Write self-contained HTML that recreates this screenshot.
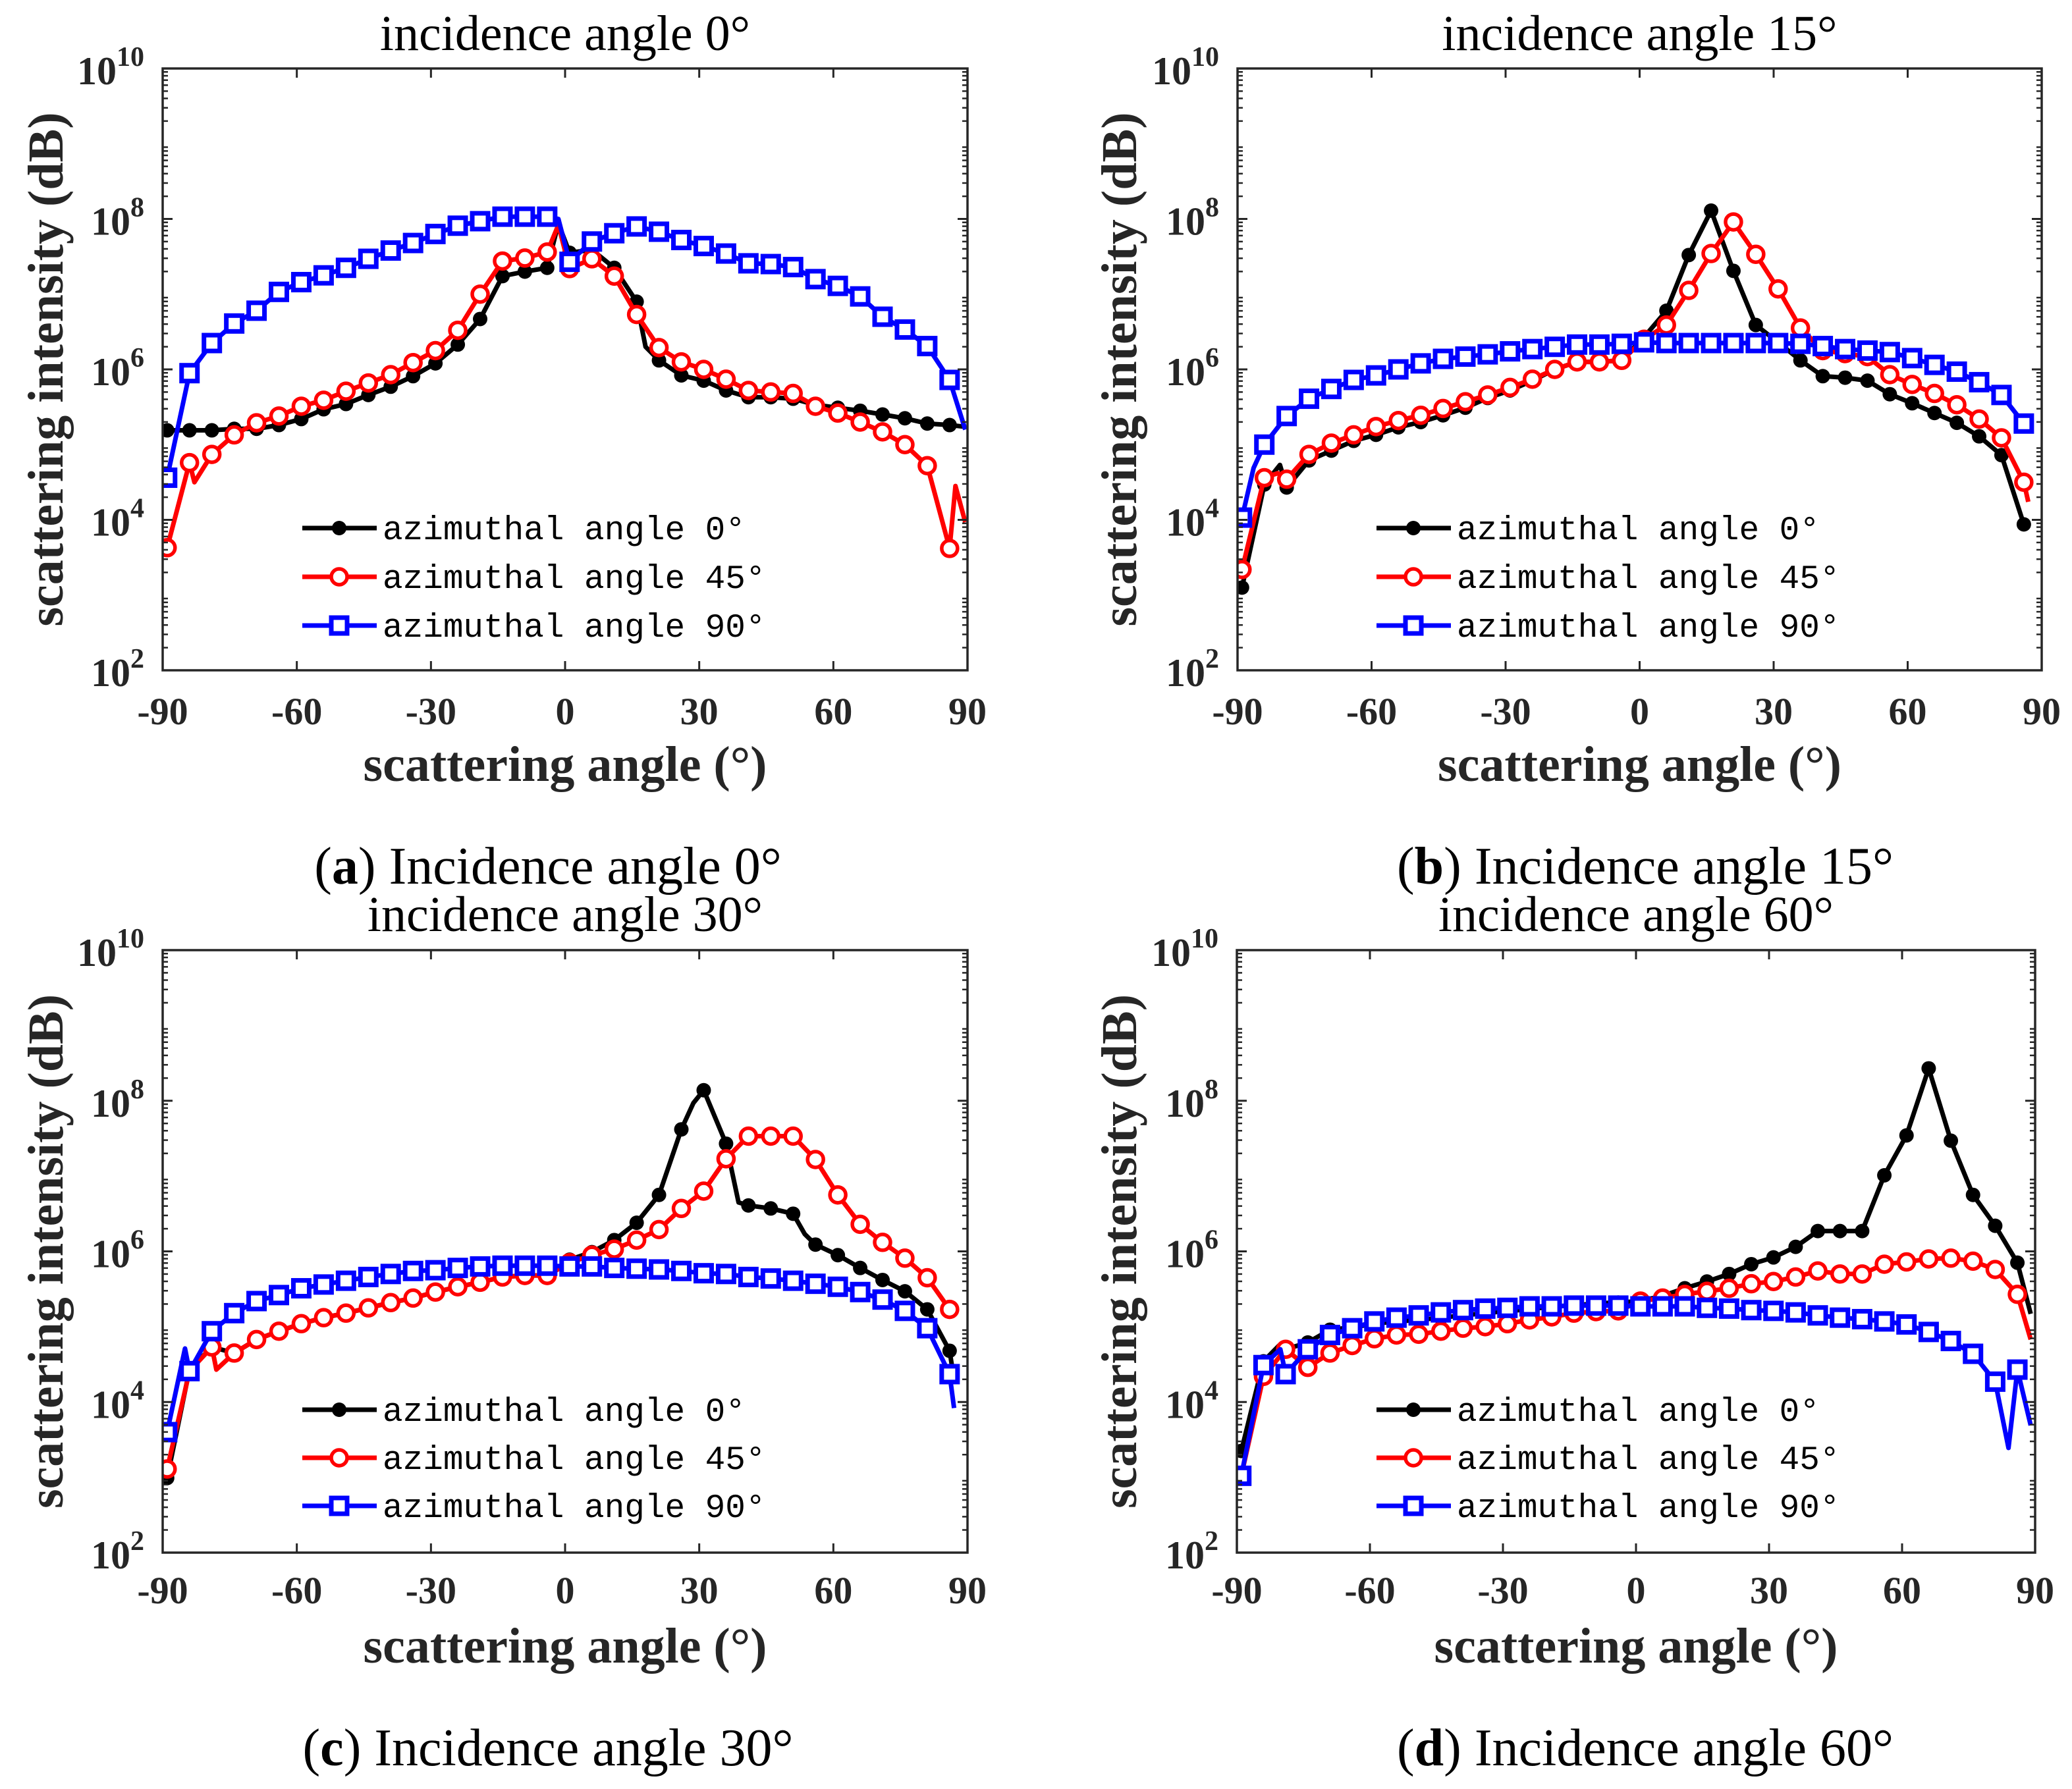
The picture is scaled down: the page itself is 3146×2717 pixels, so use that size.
<!DOCTYPE html>
<html><head><meta charset="utf-8"><style>
html,body{margin:0;padding:0;background:#fff}
svg{display:block}
</style></head><body>
<svg id="fig" xmlns="http://www.w3.org/2000/svg" width="3146" height="2717" viewBox="0 0 3146 2717">
<rect width="3146" height="2717" fill="#fff"/>
</svg>
<script>
const markerAngles=[-89,-84,-79,-74,-69,-64,-59,-54,-49,-44,-39,-34,-29,-24,-19,-14,-9,-4,1,6,11,16,21,26,31,36,41,46,51,56,61,66,71,76,81,86];
const xTicks=[-90,-60,-30,0,30,60,90];
const yTicks=[2,4,6,8,10];
const seriesNames=["azimuthal angle 0°","azimuthal angle 45°","azimuthal angle 90°"];
// panel a (incidence 0)
const aBlack=[5.19,5.19,5.19,5.21,5.21,5.26,5.34,5.47,5.54,5.66,5.77,5.91,6.08,6.33,6.67,7.24,7.30,7.35,7.55,7.59,7.35,6.90,6.12,5.92,5.85,5.72,5.63,5.63,5.61,5.53,5.49,5.45,5.40,5.35,5.28,5.26];
const aBlackExAng=[-1.5,18,89];const aBlackExVal=[7.94,6.30,5.24];
const aRed=[3.63,4.76,4.87,5.13,5.29,5.38,5.51,5.59,5.71,5.82,5.93,6.09,6.25,6.52,7.0,7.44,7.48,7.56,7.34,7.47,7.24,6.73,6.29,6.10,6.0,5.87,5.72,5.70,5.68,5.51,5.42,5.30,5.17,5.0,4.72,3.62];
const aRedExAng=[-82.9,-1.5,87.3,89.5];const aRedExVal=[4.5,7.92,4.45,3.97];
const aBlue=[4.56,5.95,6.35,6.61,6.78,7.03,7.16,7.25,7.35,7.47,7.58,7.68,7.80,7.91,7.97,8.03,8.03,8.03,7.43,7.70,7.81,7.90,7.83,7.72,7.64,7.54,7.41,7.40,7.36,7.20,7.11,6.97,6.70,6.53,6.31,5.86];
const aBlueExAng=[-1.5,89.5];const aBlueExVal=[8.0,5.2];
// panel b (incidence 15)
const bBlack=[3.10,4.47,4.43,4.79,4.92,5.05,5.13,5.23,5.30,5.39,5.49,5.62,5.72,5.85,6.0,6.10,6.10,6.12,6.43,6.78,7.52,8.11,7.31,6.59,6.36,6.12,5.91,5.89,5.85,5.67,5.55,5.42,5.29,5.11,4.86,3.94];
const bBlackExAng=[-80.5];const bBlackExVal=[4.73];
const bRed=[3.34,4.56,4.54,4.87,5.02,5.13,5.24,5.32,5.39,5.48,5.57,5.66,5.76,5.87,6.0,6.10,6.10,6.12,6.40,6.59,7.05,7.54,7.96,7.53,7.07,6.55,6.25,6.21,6.17,5.93,5.80,5.68,5.53,5.34,5.09,4.50];
const bRedExAng=[-81,87];const bRedExVal=[4.62,4.24];
const bBlue=[4.03,5.0,5.38,5.61,5.74,5.86,5.92,6.0,6.08,6.14,6.17,6.20,6.24,6.27,6.30,6.33,6.33,6.34,6.36,6.35,6.35,6.35,6.35,6.35,6.35,6.34,6.31,6.27,6.25,6.23,6.15,6.06,5.97,5.83,5.66,5.28];
const bBlueExAng=[-86.4,87];const bBlueExVal=[4.69,5.22];
// panel c (incidence 30)
const cBlack=[2.99,4.43,4.73,4.65,4.83,4.94,5.04,5.12,5.18,5.25,5.32,5.38,5.46,5.53,5.59,5.66,5.68,5.68,5.89,5.99,6.15,6.38,6.75,7.62,8.14,7.43,6.61,6.57,6.50,6.09,5.95,5.78,5.62,5.47,5.23,4.68];
const cBlackExAng=[28.7,38.8,53.6,87];const cBlackExVal=[7.97,6.65,6.23,4.3];
const cRed=[3.11,4.41,4.73,4.65,4.83,4.94,5.04,5.12,5.18,5.25,5.32,5.38,5.46,5.53,5.59,5.66,5.68,5.68,5.85,5.95,6.03,6.15,6.29,6.57,6.80,7.23,7.53,7.53,7.53,7.22,6.75,6.36,6.12,5.91,5.65,5.23];
const cRedExAng=[-78];const cRedExVal=[4.43];
const cBlue=[3.60,4.41,4.94,5.18,5.34,5.42,5.51,5.56,5.61,5.66,5.70,5.74,5.75,5.78,5.80,5.81,5.81,5.81,5.80,5.80,5.78,5.77,5.76,5.74,5.71,5.70,5.66,5.64,5.61,5.57,5.53,5.46,5.36,5.21,4.98,4.37];
const cBlueExAng=[-85,87];const cBlueExVal=[4.71,3.92];
// panel d (incidence 60)
const dBlack=[3.35,4.54,4.70,4.79,4.96,4.99,5.04,5.07,5.09,5.12,5.15,5.18,5.21,5.23,5.27,5.28,5.31,5.32,5.34,5.41,5.51,5.60,5.70,5.83,5.92,6.06,6.27,6.27,6.27,7.01,7.54,8.43,7.47,6.75,6.34,5.85];
const dBlackExAng=[-80.5,89];const dBlackExVal=[4.75,5.17];
const dRed=[3.02,4.34,4.70,4.46,4.65,4.75,4.84,4.89,4.90,4.94,4.98,5.0,5.04,5.09,5.13,5.18,5.20,5.21,5.34,5.38,5.43,5.47,5.51,5.57,5.60,5.66,5.74,5.70,5.70,5.83,5.86,5.90,5.91,5.87,5.76,5.43];
const dRedExAng=[89];const dRedExVal=[4.83];
const dBlue=[3.02,4.49,4.37,4.70,4.89,4.98,5.07,5.12,5.15,5.19,5.22,5.24,5.25,5.27,5.27,5.28,5.28,5.28,5.27,5.27,5.27,5.25,5.24,5.22,5.21,5.19,5.15,5.12,5.10,5.07,5.03,4.93,4.81,4.64,4.27,4.43];
const dBlueExAng=[-80.2,84,89];const dBlueExVal=[4.70,3.39,3.69];

const NS="http://www.w3.org/2000/svg";
const svg=document.getElementById('fig');
function mk(tag,attrs,parent){const e=document.createElementNS(NS,tag);for(const k in attrs)e.setAttribute(k,attrs[k]);(parent||svg).appendChild(e);return e;}

const panels=[
 {id:'a',inc:'0',L:247,R:1469,T:104,B:1018,titleY:76,tickY:1100,xlabY:1186,capY:1342,capX:832,ylabX:70,legX:459,legY:[802,876,950],
  data:[[aBlack,aBlackExAng,aBlackExVal],[aRed,aRedExAng,aRedExVal],[aBlue,aBlueExAng,aBlueExVal]]},
 {id:'b',inc:'15',L:1879,R:3100,T:104,B:1018,titleY:76,tickY:1100,xlabY:1186,capY:1342,capX:2498,ylabX:1700,legX:2090,legY:[802,876,950],
  data:[[bBlack,bBlackExAng,bBlackExVal],[bRed,bRedExAng,bRedExVal],[bBlue,bBlueExAng,bBlueExVal]]},
 {id:'c',inc:'30',L:247,R:1469,T:1443,B:2358,titleY:1414,tickY:2435,xlabY:2525,capY:2681,capX:832,ylabX:70,legX:459,legY:[2141,2214,2287],
  data:[[cBlack,cBlackExAng,cBlackExVal],[cRed,cRedExAng,cRedExVal],[cBlue,cBlueExAng,cBlueExVal]]},
 {id:'d',inc:'60',L:1878,R:3090,T:1443,B:2358,titleY:1414,tickY:2435,xlabY:2525,capY:2681,capX:2498,ylabX:1700,legX:2090,legY:[2141,2214,2287],
  data:[[dBlack,dBlackExAng,dBlackExVal],[dRed,dRedExAng,dRedExVal],[dBlue,dBlueExAng,dBlueExVal]]}
];
const colors=['#000000','#ff0000','#0000ff'];
const axCol='#262626';
const serif='"Liberation Serif","DejaVu Serif",serif';
const mono='"Liberation Mono","DejaVu Sans Mono",monospace';

function drawMarker(g,k,x,y){
  let m;
  if(k===0){m=mk('circle',{cx:x,cy:y,r:11,fill:colors[0]},g);}
  else if(k===1){m=mk('circle',{cx:x,cy:y,r:12,fill:'#fff',stroke:colors[1],'stroke-width':5.5},g);}
  else {m=mk('rect',{x:x-12,y:y-12,width:24,height:24,fill:'#fff',stroke:colors[2],'stroke-width':7},g);}
  
  
}

panels.forEach(p=>{
  const g=mk('g',{});
  
  
  const xs=t=>p.L+(t+90)/180*(p.R-p.L);
  const ys=v=>p.B-(v-2)/8*(p.B-p.T);
  const cx=(p.L+p.R)/2, cy=(p.T+p.B)/2;
  const t=mk('text',{x:cx,y:p.titleY,'text-anchor':'middle','font-family':serif,'font-size':76,fill:'#000'},g);
  t.textContent='incidence angle '+p.inc+'°';
  
  const cp=mk('clipPath',{id:'clip'+p.id},g);
  mk('rect',{x:p.L,y:p.T-20,width:p.R-p.L,height:p.B-p.T+20},cp);
  p.data.forEach((s,k)=>{
    const pts=markerAngles.map((a,i)=>[a,s[0][i],true]);
    s[1].forEach((a,i)=>pts.push([a,s[2][i],false]));
    pts.sort((u,v)=>u[0]-v[0]);
    const sg=mk('g',{'clip-path':'url(#clip'+p.id+')'},g);
    
    
    const line=mk('polyline',{points:pts.map(q=>xs(q[0]).toFixed(1)+','+ys(q[1]).toFixed(1)).join(' '),fill:'none',stroke:colors[k],'stroke-width':7,'stroke-linejoin':'round'},sg);
    
    
    pts.filter(q=>q[2]).forEach(q=>drawMarker(sg,k,xs(q[0]),ys(q[1])));
  });
  const fr=mk('rect',{x:p.L,y:p.T,width:p.R-p.L,height:p.B-p.T,fill:'none',stroke:axCol,'stroke-width':3.5},g);
  
  xTicks.forEach(v=>{
    const x=xs(v);
    mk('line',{x1:x,y1:p.B,x2:x,y2:p.B-14,stroke:axCol,'stroke-width':3},g);
    mk('line',{x1:x,y1:p.T,x2:x,y2:p.T+14,stroke:axCol,'stroke-width':3},g);
    const tl=mk('text',{x:x,y:p.tickY,'text-anchor':'middle','font-family':serif,'font-size':58,'font-weight':'bold',fill:axCol},g);
    tl.textContent=String(v);
    
  });
  for(let dec=2;dec<10;dec++){
    for(let m=2;m<=9;m++){
      const y=ys(dec+Math.log10(m));
      mk('line',{x1:p.L,y1:y,x2:p.L+8,y2:y,stroke:axCol,'stroke-width':2.5},g);
      mk('line',{x1:p.R,y1:y,x2:p.R-8,y2:y,stroke:axCol,'stroke-width':2.5},g);
    }
  }
  yTicks.forEach(v=>{
    const y=ys(v);
    mk('line',{x1:p.L,y1:y,x2:p.L+15,y2:y,stroke:axCol,'stroke-width':3},g);
    mk('line',{x1:p.R,y1:y,x2:p.R-15,y2:y,stroke:axCol,'stroke-width':3},g);
    const tl=mk('text',{x:p.L-28,y:y+24,'text-anchor':'end','font-family':serif,'font-size':60,'font-weight':'bold',fill:axCol},g);
    
    tl.appendChild(document.createTextNode('10'));
    const ts=mk('tspan',{dy:-28,'font-size':42},tl);ts.textContent=String(v);
  });
  const xl=mk('text',{x:cx,y:p.xlabY,'text-anchor':'middle','font-family':serif,'font-size':76,'font-weight':'bold',fill:axCol},g);
  xl.textContent='scattering angle (°)';
  
  const yl=mk('text',{x:p.ylabX,y:cy,'text-anchor':'middle','font-family':serif,'font-size':76,'font-weight':'bold',fill:axCol,transform:'rotate(-90 '+(p.ylabX)+' '+cy+')','dominant-baseline':'central'},g);
  yl.textContent='scattering intensity (dB)';
  
  const lg=mk('g',{},g);
  
  seriesNames.forEach((nm,k)=>{
    const y=p.legY[k];
    const eg=mk('g',{},lg);
    
    
    mk('line',{x1:p.legX,y1:y,x2:p.legX+113,y2:y,stroke:colors[k],'stroke-width':7},eg);
    drawMarker(eg,k,p.legX+56,y);
    const tx=mk('text',{x:p.legX+122,y:y+17,'font-family':mono,'font-size':51,fill:'#000'},eg);
    tx.textContent=nm;
  });
  const cap=mk('text',{x:p.capX,y:p.capY,'text-anchor':'middle','font-family':serif,'font-size':80,fill:'#000'},g);
  
  cap.appendChild(document.createTextNode('('));
  const b=mk('tspan',{'font-weight':'bold'},cap);b.textContent=p.id;
  cap.appendChild(document.createTextNode(') Incidence angle '+p.inc+'°'));
});
</script>
</body></html>
